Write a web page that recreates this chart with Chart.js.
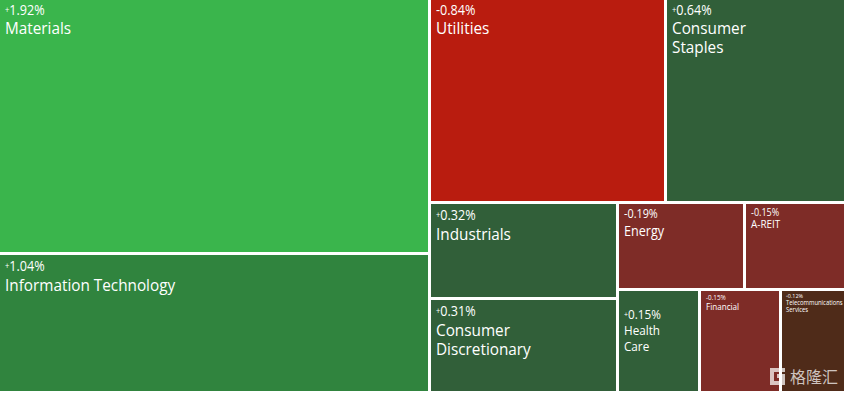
<!DOCTYPE html>
<html><head><meta charset="utf-8">
<style>html,body{margin:0;padding:0;background:#fff}canvas{display:block}</style>
<script src="https://cdn.jsdelivr.net/npm/chart.js@4/dist/chart.umd.js"></script>
</head><body><canvas id="c" width="844" height="393"></canvas>
<script>
const sectors = ['Materials','Information Technology','Utilities','Consumer Staples','Industrials','Consumer Discretionary','Energy','A-REIT','Health Care','Financial','Telecommunications Services'];
const changes = ['+1.92%','+1.04%','-0.84%','+0.64%','+0.32%','+0.31%','-0.19%','-0.15%','+0.15%','-0.15%','+0.12%'];
const weights = [33.08,17.92,14.53,10.97,5.47,5.23,3.37,2.61,2.52,2.48,1.92];
const colors = ['#3AB54C','#30843E','#B91C0F','#315F39','#315F39','#315F39','#7E2C27','#7E2C27','#315F39','#7E2C27','#4F2B19'];
// label lines as wrapped in the picture
const labelLines = [['Materials'],['Information Technology'],['Utilities'],['Consumer','Staples'],['Industrials'],['Consumer','Discretionary'],['Energy'],['A-REIT'],['Health','Care'],['Financial'],['Telecommunications','Services']];
// nesting of the treemap: each level alternates between side-by-side and stacked
const nesting = [[0,1],[[2,3],[[4,5],[[6,7],[8,9,10]]]]];
// [change font px, name font px, line height, top offset of change centre, gap to first name centre, left pad]
const textStyle = [
 [14,17,19,11,18,5],[14,17,19,12,19,5],[14,17,19,11,18,5],[14,17,19,11,18,5],[14,17,19,12,19,5],[14,17,19,12,19,5],
 [12,14,16,11,17,5],[10,11,12,9,12,5],[13,13,16,24,16,5],[7,9,9,7,9,5],[6,6.5,7,5,7,4]];

function layout(node, x0, y0, x1, y1, vertical, out){
  if (typeof node === 'number'){ out[node] = {x:(x0+x1)/2, y:(y0+y1)/2, x0, y0, x1, y1}; return; }
  const sum = n => typeof n === 'number' ? weights[n] : n.reduce((a,b)=>a+sum(b),0);
  const total = sum(node); let pos = vertical ? y0 : x0;
  node.forEach(child => {
    const span = (vertical ? y1-y0 : x1-x0) * sum(child) / total;
    if (vertical) layout(child, x0, pos, x1, pos+span, !vertical, out);
    else layout(child, pos, y0, pos+span, y1, !vertical, out);
    pos += span;
  });
}
const cells = []; layout(nesting, 0, 0, 1, 1, false, cells);

class TreemapController extends Chart.DatasetController {
  update(mode){ const m = this._cachedMeta; this.updateElements(m.data, 0, m.data.length, mode); }
  updateElements(els, start, count, mode){
    const {xScale, yScale, _parsed} = this._cachedMeta;
    const gap = this.getDataset().gap / 2;
    for (let i = start; i < start + count; i++){
      const p = _parsed[i];
      let l = Math.round(xScale.getPixelForValue(p.x0)), r = Math.round(xScale.getPixelForValue(p.x1));
      let t = Math.round(yScale.getPixelForValue(p.y0)), b = Math.round(yScale.getPixelForValue(p.y1));
      if (p.x0 > 1e-6) l += Math.floor(gap);
      if (p.x1 < 1-1e-6) r -= Math.ceil(gap);
      if (p.y0 > 1e-6) t += Math.floor(gap);
      if (p.y1 < 1-1e-6) b -= Math.ceil(gap);
      this.updateElement(els[i], i, {x:(l+r)/2, y:t, base:b, width:r-l, height:b-t, horizontal:false, inflateAmount:0, enableBorderRadius:false,
        borderSkipped:{top:false,left:false,bottom:false,right:false}, options:this.resolveDataElementOptions(i, mode)}, mode);
    }
  }
}
TreemapController.id = 'treemap';
TreemapController.defaults = {dataElementType:'bar', datasetElementType:false};
Chart.register(TreemapController);

const FONT = '"Open Sans", Lato, sans-serif';
const SX = 0.9;
function squeezed(c, text, x, y){ c.save(); c.translate(x,y); c.scale(SX,1); c.fillText(text,0,0); c.restore(); }
const cellText = {
  id:'cellText',
  beforeDraw(chart){ const c = chart.ctx; c.save(); c.fillStyle='#fff'; c.fillRect(0,0,chart.width,chart.height); c.restore(); },
  afterDatasetsDraw(chart){
    const c = chart.ctx, els = chart.getDatasetMeta(0).data;
    c.save(); c.fillStyle='#fff'; c.textBaseline='middle'; c.textAlign='left';
    els.forEach((el,i)=>{
      const [pf,nf,lh,off,g,pad] = textStyle[i];
      const left = el.x - el.width/2 + pad, top = el.y;
      const txt = changes[i];
      let px = left;
      if (txt[0] === '+'){
        c.font = (pf*0.6)+'px '+FONT; squeezed(c,'+',px,top+off); px += c.measureText('+').width*SX;
        c.font = pf+'px '+FONT; squeezed(c,txt.slice(1),px,top+off);
      } else { c.font = pf+'px '+FONT; squeezed(c,txt,px,top+off); }
      c.font = nf+'px '+FONT;
      labelLines[i].forEach((ln,k)=> squeezed(c, ln, left, top+off+g+k*lh));
    });
    // source watermark
    c.globalAlpha = .72; c.fillStyle='#fff'; c.font='16px "Noto Sans CJK SC"';
    c.fillText('格隆汇', 790, 377);
    c.strokeStyle='#fff'; c.lineWidth=4; c.lineJoin='miter';
    c.beginPath(); c.moveTo(785,370); c.lineTo(772,370); c.lineTo(772,383); c.lineTo(783,383); c.lineTo(783,376); c.lineTo(777,376); c.stroke();
    c.restore();
  }
};
const ctx = document.getElementById('c').getContext('2d',{alpha:false});
new Chart(ctx,{
  type:'treemap',
  data:{labels:sectors,datasets:[{data:cells,parsing:false,backgroundColor:colors,borderWidth:0,gap:3}]},
  options:{responsive:false,animation:false,devicePixelRatio:1,
    layout:{padding:{bottom:2}},
    scales:{x:{type:'linear',min:0,max:1,display:false},y:{type:'linear',min:0,max:1,reverse:true,display:false}},
    plugins:{legend:{display:false},tooltip:{enabled:false}},events:[]},
  plugins:[cellText]
});
</script></body></html>
